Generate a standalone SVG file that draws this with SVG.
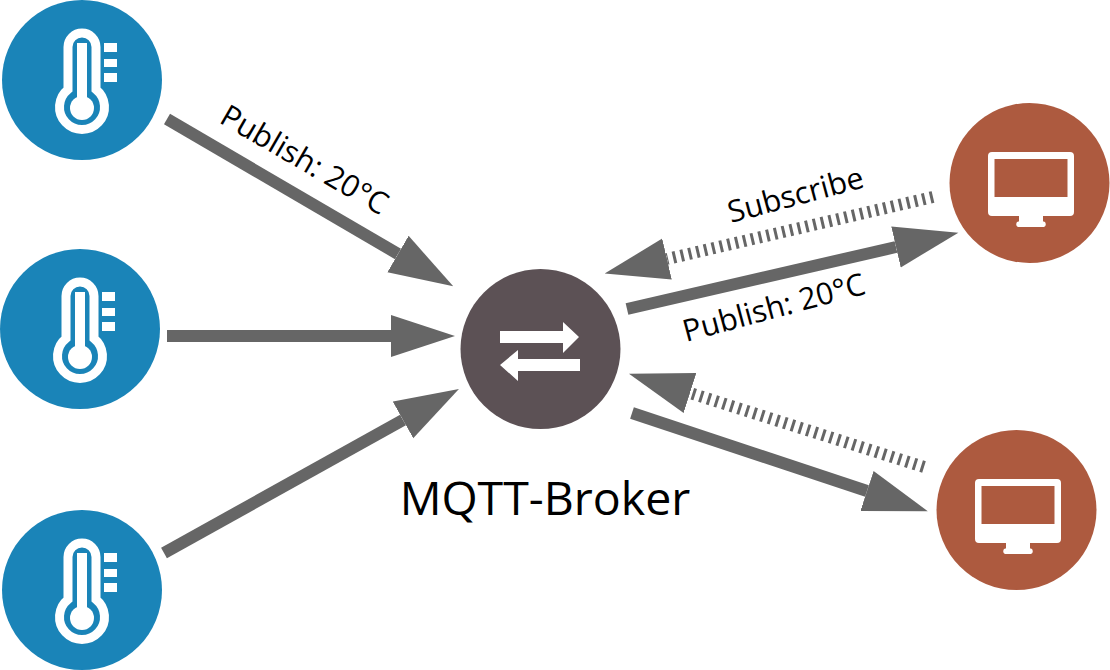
<svg xmlns="http://www.w3.org/2000/svg" width="1110" height="670" viewBox="0 0 1110 670">
<style>
.c{fill:none;stroke:#666;stroke-width:12}
.d{stroke-width:12;stroke-dasharray:3 5}
.t{font-family:"Open Sans","Noto Sans",sans-serif;fill:#000}
.l{font-size:30.500px}
.w{fill:#fff}
.o{fill:none;stroke:#fff}
.s{fill:#1a84b8}
.m{fill:#ad5a3f}
</style>
<defs>
<marker id="h" markerUnits="userSpaceOnUse" markerWidth="66" markerHeight="44" refX="0" refY="22" orient="auto"><path d="M0 1L64 22L0 43Z" fill="#666"/></marker>
<g id="th">
<path class="o" stroke-width="9" d="M-14 9.400V-33A14 14 0 0 1 14 -33V9.400A22.500 22.500 0 1 1 -14 9.400Z"/>
<path class="w" d="M-5 -37H5V20H-5Z"/>
<circle class="w" r="12" cy="28"/>
<rect class="w" x="22" y="-37" width="13" height="9"/>
<rect class="w" x="22" y="-21" width="13" height="8"/>
<rect class="w" x="22" y="-7" width="13" height="9"/>
</g>
<g id="mon">
<path class="w" fill-rule="evenodd" d="M-43 -27a4 4 0 0 1 4-4H39a4 4 0 0 1 4 4V29a4 4 0 0 1-4 4H12V38.500H13a3 3 0 0 1 0 5.500H-13a3 3 0 0 1 0-5.500H-12V33H-39a4 4 0 0 1-4-4ZM-36.500 -24V14H36.500V-24Z"/>
</g>
</defs>
<g id="connectors">
<path class="c" marker-end="url(#h)" d="M167 119L398 254"/>
<path class="c" marker-end="url(#h)" d="M167 336H391"/>
<path class="c" marker-end="url(#h)" d="M164 553L403 420"/>
<path class="c" marker-end="url(#h)" d="M627 309L896 247"/>
<path class="c" marker-end="url(#h)" d="M632 413L867 491"/>
<path class="c d" marker-end="url(#h)" d="M933 197L667 259"/>
<path class="c d" marker-end="url(#h)" d="M924 467L690 393"/>
</g>
<g id="sensor-1"><circle class="s" cx="82" cy="80" r="80"/><use href="#th" x="82" y="80"/></g>
<g id="sensor-2"><circle class="s" cx="80" cy="329" r="80"/><use href="#th" x="80" y="329"/></g>
<g id="sensor-3"><circle class="s" cx="82" cy="590" r="80"/><use href="#th" x="82" y="590"/></g>
<g id="broker"><circle cx="540.500" cy="349" r="80" fill="#5c5155"/>
<path class="w" d="M500 331H563V322L579 337L563 353V343H500ZM580 359H518V350L500 365L518 381V371H580Z"/>
<text class="t" x="545" y="515" font-size="46.500" text-anchor="middle">MQTT-Broker</text></g>
<g id="client-1"><circle class="m" cx="1029.500" cy="183" r="80"/><use href="#mon" x="1031" y="183"/></g>
<g id="client-2"><circle class="m" cx="1016.500" cy="510" r="80"/><use href="#mon" x="1018" y="510"/></g>
<g id="labels">
<text class="t l" transform="translate(218,122) rotate(30)">Publish: 20°C</text>
<text class="t l" transform="translate(731,223) rotate(-15)">Subscribe</text>
<text class="t l" transform="translate(686,342) rotate(-15)">Publish: 20°C</text>
</g>
</svg>
